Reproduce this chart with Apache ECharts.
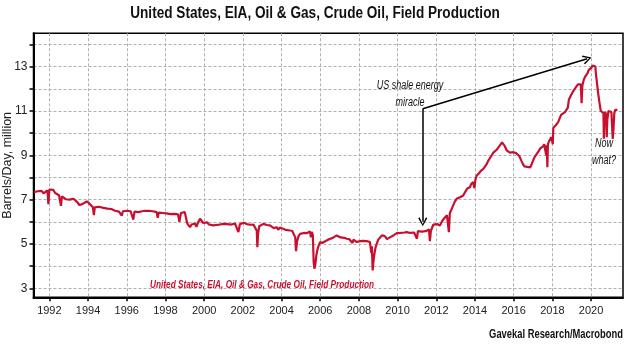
<!DOCTYPE html>
<html><head><meta charset="utf-8">
<script src="https://cdn.jsdelivr.net/npm/echarts@6/dist/echarts.min.js"></script>
<style>html,body{margin:0;padding:0;background:#fff}#c{width:630px;height:348px}</style>
</head><body><div id="c"></div>
<script>
// decimal years
const years = [
1991.2,1991.3,1991.4,1991.5,1991.6,1991.7,1991.8,1991.9,1991.95,1992.0,1992.1,1992.2,1992.3,1992.4,1992.5,1992.55,1992.6,1992.65,1992.75,1992.85,1992.95,
1993.05,1993.15,1993.25,1993.35,1993.45,1993.55,1993.6,1993.7,1993.8,1993.93,1994.05,1994.15,1994.25,1994.3,1994.35,1994.45,1994.55,1994.65,1994.8,1994.9,
1995.0,1995.1,1995.2,1995.3,1995.4,1995.5,1995.6,1995.7,1995.74,1995.8,1995.9,1996.0,1996.1,1996.2,1996.3,1996.34,1996.4,1996.5,1996.6,1996.7,1996.8,1996.86,1996.95,
1997.05,1997.15,1997.25,1997.35,1997.45,1997.55,1997.6,1997.65,1997.75,1997.85,1997.95,1998.05,1998.15,1998.25,1998.35,1998.45,1998.55,1998.65,1998.72,1998.8,1998.9,
1999.0,1999.08,1999.13,1999.2,1999.27,1999.35,1999.45,1999.53,1999.6,1999.7,1999.79,1999.87,1999.95,
2000.05,2000.15,2000.25,2000.35,2000.48,2000.6,2000.7,2000.8,2000.9,2001.0,2001.1,2001.2,2001.3,2001.4,2001.5,2001.6,2001.7,2001.77,2001.85,2001.95,
2002.05,2002.11,2002.2,2002.3,2002.37,2002.45,2002.55,2002.65,2002.72,2002.75,2002.79,2002.85,2002.95,
2003.06,2003.15,2003.25,2003.4,2003.5,2003.6,2003.65,2003.75,2003.84,2003.9,2004.0,2004.09,2004.2,2004.3,2004.44,2004.55,2004.65,2004.71,2004.75,2004.8,2004.88,2004.96,
2005.05,2005.15,2005.3,2005.4,2005.47,2005.52,2005.56,2005.62,2005.66,2005.7,2005.75,2005.8,2005.87,2005.93,2005.99,
2006.1,2006.2,2006.33,2006.45,2006.55,2006.65,2006.75,2006.85,2006.95,2007.05,2007.15,2007.25,2007.37,2007.5,2007.6,2007.67,2007.72,2007.8,2007.89,
2008.0,2008.1,2008.2,2008.3,2008.4,2008.5,2008.57,2008.64,2008.67,2008.71,2008.75,2008.8,2008.86,2008.92,
2009.0,2009.1,2009.2,2009.26,2009.35,2009.45,2009.52,2009.6,2009.7,2009.8,2009.9,2009.96,
2010.05,2010.15,2010.25,2010.35,2010.47,2010.55,2010.65,2010.75,2010.85,2010.95,2011.0,2011.05,2011.15,2011.25,2011.33,2011.45,2011.55,2011.62,2011.67,2011.72,2011.78,2011.85,2011.95,
2012.05,2012.12,2012.19,2012.28,2012.37,2012.45,2012.55,2012.62,2012.65,2012.7,2012.76,2012.85,2012.95,
2013.05,2013.15,2013.25,2013.39,2013.5,2013.6,2013.74,2013.8,2013.9,2013.97,2014.02,2014.09,2014.2,2014.3,2014.43,2014.5,2014.6,2014.68,2014.78,2014.85,2014.95,
2015.05,2015.12,2015.2,2015.3,2015.4,2015.43,2015.48,2015.55,2015.64,2015.72,2015.8,2015.9,2015.98,
2016.06,2016.12,2016.2,2016.28,2016.33,2016.4,2016.48,2016.55,2016.62,2016.7,2016.78,2016.86,2016.93,
2017.01,2017.08,2017.15,2017.22,2017.3,2017.36,2017.45,2017.52,2017.58,2017.62,2017.68,2017.71,2017.74,2017.77,2017.82,2017.88,2017.95,
2018.0,2018.02,2018.05,2018.12,2018.2,2018.3,2018.39,2018.45,2018.55,2018.65,2018.74,2018.8,2018.85,2018.91,2018.98,
2019.05,2019.12,2019.2,2019.26,2019.32,2019.4,2019.47,2019.51,2019.55,2019.62,2019.68,2019.75,2019.82,2019.88,2019.94,
2020.02,2020.08,2020.11,2020.18,2020.22,2020.25,2020.3,2020.37,2020.43,2020.5,2020.56,2020.6,2020.64,2020.66,2020.69,2020.74,2020.78,2020.81,2020.84,2020.9,2020.98,
2021.05,2021.1,2021.12,2021.16,2021.2,2021.25,2021.3,2021.36
];
// million barrels per day
const production = [
7.34,7.30,7.38,7.32,7.40,7.28,7.36,7.42,6.80,7.46,7.38,7.44,7.30,7.25,7.20,7.18,6.72,7.15,7.10,7.02,7.08,
7.00,6.95,7.04,6.98,6.88,6.76,6.70,6.80,6.85,6.92,6.84,6.76,6.66,6.30,6.66,6.60,6.68,6.62,6.63,6.55,
6.60,6.52,6.58,6.55,6.50,6.54,6.46,6.50,6.28,6.48,6.44,6.50,6.45,6.48,6.42,6.10,6.46,6.50,6.44,6.52,6.48,6.55,6.50,
6.46,6.50,6.44,6.48,6.40,6.44,6.18,6.42,6.36,6.40,6.42,6.38,6.42,6.35,6.40,6.36,6.38,6.34,6.00,6.40,6.42,
6.44,6.40,5.92,5.85,5.76,5.88,5.82,5.92,5.78,6.00,6.14,6.05,5.95,
5.94,5.98,5.88,5.92,5.84,5.86,5.80,5.88,5.84,5.91,5.86,5.90,5.84,5.88,5.88,5.92,5.85,5.54,5.90,5.93,
5.96,5.98,5.90,5.92,5.87,5.92,5.88,5.90,5.60,4.86,5.50,5.80,5.88,
5.91,5.95,5.86,5.84,5.80,5.72,5.78,5.76,5.64,5.74,5.70,5.69,5.64,5.66,5.61,5.60,5.58,5.30,4.68,5.10,5.36,5.46,
5.44,5.50,5.49,5.52,5.57,5.30,5.55,5.40,4.20,3.89,4.10,4.50,4.80,4.95,5.09,
5.05,5.12,5.16,5.22,5.18,5.28,5.30,5.39,5.32,5.30,5.26,5.28,5.24,5.22,5.18,5.05,5.20,5.14,5.09,
5.12,5.08,5.14,5.10,5.13,5.08,5.09,4.60,4.90,3.81,4.20,4.55,4.85,5.01,
5.20,5.28,5.40,5.49,5.35,5.22,5.16,5.30,5.38,5.40,5.46,5.49,
5.44,5.50,5.46,5.52,5.54,5.46,5.50,5.56,5.52,5.58,5.24,5.58,5.60,5.56,5.64,5.58,5.62,5.66,5.13,5.60,5.66,5.88,5.84,
5.90,5.82,5.84,6.00,6.12,6.18,6.30,6.39,5.54,6.40,6.51,6.70,6.90,
7.04,7.08,7.12,7.19,7.36,7.50,7.56,7.70,7.80,7.52,7.90,8.09,8.18,8.30,8.39,8.48,8.60,8.75,8.84,8.98,9.12,
9.19,9.25,9.35,9.42,9.58,9.67,9.55,9.40,9.22,9.18,9.12,9.18,9.14,
9.20,9.10,9.05,8.98,8.90,8.75,8.60,8.50,8.46,8.48,8.50,8.46,8.60,
8.78,8.92,9.00,9.10,9.20,9.30,9.35,9.40,9.50,9.52,9.00,9.45,8.46,9.50,9.62,9.70,9.82,
9.78,9.50,10.24,10.25,10.38,10.50,10.70,10.82,10.90,10.95,11.00,11.15,11.50,11.62,11.70,
11.85,11.95,12.05,12.14,12.20,12.25,12.20,11.35,12.15,12.40,12.52,12.60,12.70,12.85,12.90,
12.95,13.05,13.10,13.10,13.00,12.67,12.30,11.77,11.40,11.00,11.05,10.94,10.90,9.75,10.70,10.95,10.80,9.82,10.60,11.00,11.09,
10.95,11.00,9.74,10.20,10.90,11.05,11.00,11.05
];
const xTickLabels = [1992,1994,1996,1998,2000,2002,2004,2006,2008,2010,2012,2014,2016,2018,2020];
const yTickLabels = [3,5,7,9,11,13];
const yTicks = [3,4,5,6,7,8,9,10,11,12,13,14];
const titleText = 'United States, EIA, Oil & Gas, Crude Oil, Field Production';
const seriesName = 'United States, EIA, Oil & Gas, Crude Oil, Field Production';
const yAxisName = 'Barrels/Day, million';
const sourceText = 'Gavekal Research/Macrobond';
const shaleNote = 'US shale energy\nmiracle';
const nowNote = 'Now\nwhat?';
// annotation anchors in data units [year, value]
const arrowStart = [2011.3, 11.1];
const arrowDownEnd = [2011.3, 6.0];
const arrowPeakEnd = [2019.8, 13.35];
const shaleNoteAt = [2010.64, 11.78];
const nowNoteAt = [2020.67, 9.17];

const FONT = "'Liberation Sans','Arial',sans-serif";
const RED = '#c8102e';
const data = years.map((y, i) => [y, production[i]]);
const chevron = 'path://M5,0 L10,9 L8.6,10 L5,2.6 L1.4,10 L0,9 Z';

const chart = echarts.init(document.getElementById('c'), null, {renderer: 'canvas'});
chart.setOption({
  animation: false,
  backgroundColor: '#fff',
  grid: {left: 33.5, right: 7, top: 33.3, bottom: 50.7, show: true, borderColor: '#000', borderWidth: 1.5,
         containLabel: false, outerBoundsMode: 'none'},
  xAxis: {
    type: 'value', min: 1991.18, max: 2021.65, splitNumber: 15, minInterval: 2, maxInterval: 2,
    axisLine: {show: true, onZero: false, lineStyle: {color: '#000', width: 2}},
    axisTick: {show: true, length: 4, customValues: xTickLabels, lineStyle: {color: '#000', width: 1.5}},
    axisLabel: {customValues: xTickLabels, formatter: v => String(v), margin: 8, fontFamily: FONT, fontSize: 11, color: '#222'},
    splitLine: {show: true, lineStyle: {color: '#b0b0b0', type: [3, 2], width: 1}}
  },
  yAxis: {
    type: 'value', min: 2.6, max: 14.5, splitNumber: 12, minInterval: 1, maxInterval: 1,
    name: yAxisName, nameLocation: 'middle', nameGap: 19, nameRotate: 90, nameMoveOverlap: false,
    nameTextStyle: {fontFamily: FONT, fontSize: 12.5, color: '#222'},
    axisLine: {show: true, lineStyle: {color: '#000', width: 2}},
    axisTick: {show: true, length: 4, customValues: yTicks, lineStyle: {color: '#000', width: 1.5}},
    axisLabel: {customValues: yTickLabels, formatter: v => String(v), margin: 6, fontFamily: FONT, fontSize: 12, color: '#222'},
    splitLine: {show: true, lineStyle: {color: '#b0b0b0', type: [3, 2], width: 1}}
  },
  series: [{
    name: seriesName, type: 'line', data: data, showSymbol: false, symbol: 'none',
    lineStyle: {color: RED, width: 2.2}, z: 3,
    markLine: {
      silent: true, symbol: ['none', chevron], symbolSize: [9, 9],
      lineStyle: {color: '#000', width: 1.5, type: 'solid'}, label: {show: false},
      data: [
        [{coord: arrowStart}, {coord: arrowDownEnd}],
        [{coord: arrowStart}, {coord: arrowPeakEnd}]
      ]
    }
  }]
});

const shaleAt = chart.convertToPixel({gridIndex: 0}, shaleNoteAt);
const nowAt = chart.convertToPixel({gridIndex: 0}, nowNoteAt);
const condensed = (x, y, sx, text, font, fill, align) => ({
  type: 'text', x: x, y: y, scaleX: sx, silent: true,
  style: {x: 0, y: 0, text: text, font: font, fill: fill, align: align, verticalAlign: 'middle', lineHeight: 17}
});
chart.setOption({
  graphic: [
    condensed(315, 14, 0.85, titleText, 'bold 16px ' + FONT, '#111', 'center'),
    condensed(150, 285, 0.75, seriesName, 'italic bold 11px ' + FONT, RED, 'left'),
    condensed(623, 335, 0.75, sourceText, 'bold 12.5px ' + FONT, '#111', 'right'),
    condensed(shaleAt[0], shaleAt[1], 0.72, shaleNote, 'italic 12.5px ' + FONT, '#111', 'center'),
    condensed(nowAt[0], nowAt[1], 0.72, nowNote, 'italic 12.5px ' + FONT, '#111', 'center')
  ]
});
</script>
</body></html>
